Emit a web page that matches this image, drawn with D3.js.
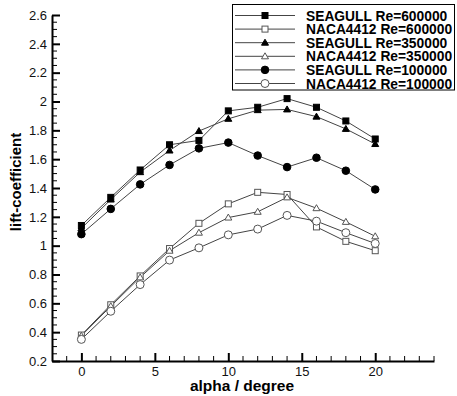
<!DOCTYPE html>
<html lang="en">
<head>
<meta charset="utf-8">
<script src="https://d3js.org/d3.v7.min.js"></script>
<style>
  body { margin: 0; background: #fff; }
  text { font-family: "Liberation Sans", Arial, sans-serif; }
</style>
</head>
<body>
<svg id="chart" width="457" height="396"></svg>
<script>
// data
const alpha = [0, 2, 4, 6, 8, 10, 12, 14, 16, 18, 20];
const seagull600 = [1.14, 1.335, 1.525, 1.70, 1.73, 1.935, 1.96, 2.02, 1.96, 1.865, 1.74];
const naca600    = [0.38, 0.59, 0.79, 0.98, 1.155, 1.29, 1.37, 1.355, 1.13, 1.03, 0.965];
const seagull350 = [1.12, 1.32, 1.51, 1.66, 1.795, 1.88, 1.94, 1.945, 1.895, 1.81, 1.705];
const naca350    = [0.375, 0.58, 0.78, 0.965, 1.09, 1.195, 1.235, 1.335, 1.26, 1.165, 1.065];
const seagull100 = [1.08, 1.255, 1.425, 1.56, 1.675, 1.715, 1.625, 1.545, 1.61, 1.52, 1.39];
const naca100    = [0.35, 0.545, 0.73, 0.90, 0.985, 1.075, 1.115, 1.21, 1.17, 1.09, 1.015];

const seriesNames = ["SEAGULL Re=600000", "NACA4412 Re=600000", "SEAGULL Re=350000",
                     "NACA4412 Re=350000", "SEAGULL Re=100000", "NACA4412 Re=100000"];
const seriesValues = [seagull600, naca600, seagull350, naca350, seagull100, naca100];
const markers = ["square", "square", "triangle", "triangle", "circle", "circle"];
const filled = [true, false, true, false, true, false];

const xTicks = [0, 5, 10, 15, 20];
const yTicks = [0.2, 0.4, 0.6, 0.8, 1, 1.2, 1.4, 1.6, 1.8, 2, 2.2, 2.4, 2.6];

const svg = d3.select("#chart");

const x = d3.scaleLinear().domain([-2, 24]).range([52, 434]);
const y = d3.scaleLinear().domain([0.2, 2.6]).range([361, 15]);

// minor ticks (pointing into the plot)
const xMinor = d3.range(-1, 24.01, 1).filter(d => d % 5 !== 0);
const yMinor = d3.range(0.25, 2.6, 0.05).filter(d => Math.abs(d * 5 - Math.round(d * 5)) > 1e-6);

svg.append("g").selectAll("line").data(xMinor).join("line")
  .attr("x1", d => x(d)).attr("x2", d => x(d))
  .attr("y1", 361).attr("y2", 356)
  .attr("stroke", "#000").attr("stroke-width", 1);
svg.append("g").selectAll("line").data(yMinor).join("line")
  .attr("y1", d => y(d)).attr("y2", d => y(d))
  .attr("x1", 52).attr("x2", 57)
  .attr("stroke", "#000").attr("stroke-width", 1);

// major axes via d3 axes, ticks inward
const xAxis = svg.append("g").attr("transform", "translate(0,361)")
  .call(d3.axisBottom(x).tickValues(xTicks).tickSizeInner(-8).tickSizeOuter(0));
const yAxis = svg.append("g").attr("transform", "translate(52,0)")
  .call(d3.axisLeft(y).tickValues(yTicks).tickSizeInner(-8).tickSizeOuter(0)
    .tickFormat(d3.format("~g")));

[xAxis, yAxis].forEach(g => {
  g.select(".domain").attr("stroke", "#000").attr("stroke-width", 2);
  g.selectAll(".tick line").attr("stroke", "#000").attr("stroke-width", 2);
  g.selectAll(".tick text").attr("fill", "#111").style("font-size", "13px")
    .style("font-family", "'Liberation Sans', Arial, sans-serif");
});
xAxis.selectAll(".tick text").attr("dy", "0.35em").attr("y", 10);
yAxis.selectAll(".tick text").attr("x", -5);

// axis titles
svg.append("text").attr("x", 242).attr("y", 391).attr("text-anchor", "middle")
  .style("font-size", "15.5px").style("font-weight", "bold").text("alpha / degree");
svg.append("text").attr("transform", "translate(21,182) rotate(-90)").attr("text-anchor", "middle")
  .style("font-size", "15px").style("font-weight", "bold").text("lift-coefficient");

// marker drawing
function drawMarker(g, type, isFilled) {
  const fill = isFilled ? "#000" : "#fff";
  const stroke = isFilled ? "#000" : "#555";
  if (type === "square") {
    g.append("rect").attr("x", -3).attr("y", -3).attr("width", 6).attr("height", 6)
      .attr("fill", fill).attr("stroke", stroke).attr("stroke-width", 1);
  } else if (type === "triangle") {
    g.append("path").attr("d", "M0,-3.5L3.5,2.5L-3.5,2.5Z")
      .attr("fill", fill).attr("stroke", stroke).attr("stroke-width", 1);
  } else {
    g.append("circle").attr("r", isFilled ? 3.8 : 4)
      .attr("fill", fill).attr("stroke", stroke).attr("stroke-width", 1);
  }
}

const line = d3.line().x(d => x(d[0])).y(d => y(d[1]));

// draw series
seriesValues.forEach((vals, i) => {
  const pts = alpha.map((a, k) => [a, vals[k]]);
  svg.append("path").datum(pts).attr("d", line)
    .attr("fill", "none").attr("stroke", "#444").attr("stroke-width", 1);
});
seriesValues.forEach((vals, i) => {
  const pts = alpha.map((a, k) => [a, vals[k]]);
  svg.append("g").selectAll("g").data(pts).join("g")
    .attr("transform", d => `translate(${x(d[0])},${y(d[1])})`)
    .each(function () { drawMarker(d3.select(this), markers[i], filled[i]); });
});

// legend
const legend = svg.append("g");
legend.append("rect").attr("x", 232.5).attr("y", 4.5).attr("width", 222).attr("height", 85.5)
  .attr("fill", "#fff").attr("stroke", "#000").attr("stroke-width", 1);
seriesNames.forEach((name, i) => {
  const ly = 15.5 + i * 13.6;
  const row = legend.append("g");
  row.append("line").attr("x1", 235).attr("x2", 295).attr("y1", ly).attr("y2", ly)
    .attr("stroke", "#444").attr("stroke-width", 1);
  drawMarker(row.append("g").attr("transform", `translate(265,${ly})`), markers[i], filled[i]);
  row.append("text").attr("x", 306).attr("y", ly + 5)
    .style("font-size", "13.8px").style("font-weight", "bold").text(name);
});
</script>
</body>
</html>
